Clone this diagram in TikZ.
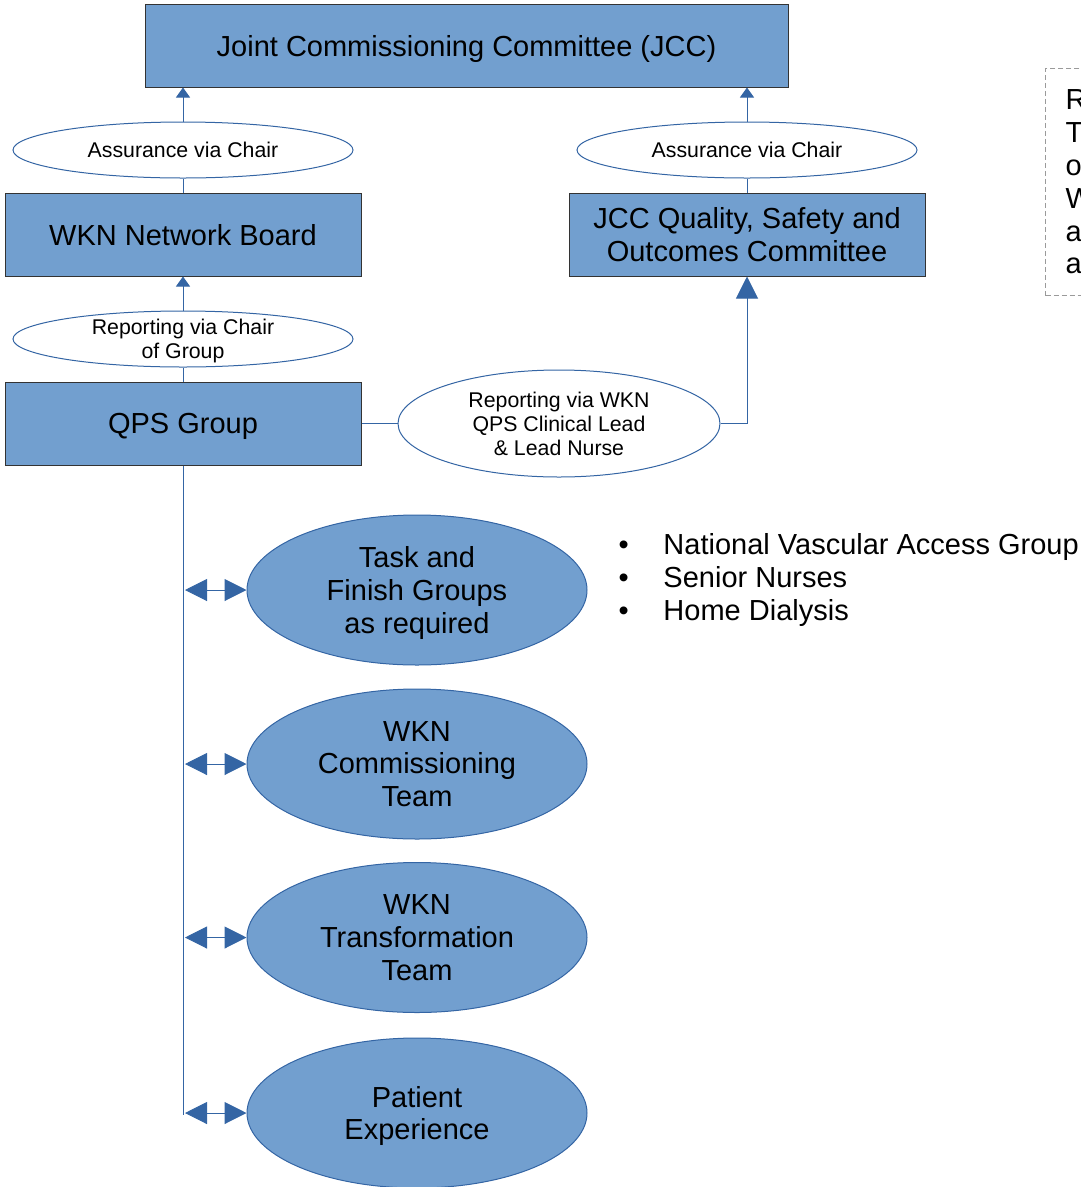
\documentclass[tikz,border=0pt]{standalone}
\usepackage{fontspec}
\setmainfont{Liberation Sans}
\usetikzlibrary{positioning, arrows.meta, shapes.geometric}

\definecolor{boxblue}{HTML}{729FCF}
\definecolor{lineblue}{HTML}{3465A4}
\definecolor{boxedge}{HTML}{333333}
\definecolor{notegray}{HTML}{9A9A9A}

\newcommand{\boxfont}{\fontsize{29}{32.8}\selectfont}
\newcommand{\viafont}{\fontsize{21.3}{24}\selectfont}

\begin{document}
\begin{tikzpicture}[x=1pt, y=-1pt, line width=1pt,
    board/.style={rectangle, draw=boxedge, fill=boxblue, minimum width=356pt, minimum height=83pt, inner sep=0pt, text depth=0pt, align=center, font=\boxfont},
    via/.style={ellipse, draw=lineblue, fill=white, minimum width=340pt, minimum height=56pt, inner sep=0pt, text depth=0pt, align=center, font=\viafont},
    team/.style={ellipse, draw=lineblue, fill=boxblue, minimum width=340pt, minimum height=150pt, inner sep=0pt, text depth=0pt, align=center, font=\boxfont},
    link/.style={draw=lineblue},
    up/.style={link, -{Triangle[length=10pt, width=14pt]}},
    bigup/.style={link, -{Triangle[length=22pt, width=22pt]}},
    both/.style={link, {Triangle[length=22pt, width=22pt]}-{Triangle[length=22pt, width=22pt]}}]
        \useasboundingbox (0,0) rectangle (1081,1187);

        \node (jcc) [board, minimum width=643pt] at (466.5,45.5) {Joint Commissioning Committee (JCC)};
        \node (viaL) [via] at (183,150) {Assurance via Chair};
        \node (viaR) [via] at (747,150) {Assurance via Chair};
        \node (wkn) [board] at (183,234.5) {WKN Network Board};
        \node (qsc) [board] at (747,234.5) {JCC Quality, Safety and\\Outcomes Committee};
        \node (viaG) [via] at (183,339) {Reporting via Chair\\of Group};
        \node (qps) [board] at (183,423.5) {QPS Group};
        \node (viaQ) [via, minimum width=322pt, minimum height=107pt] at (559,423.5) {Reporting via WKN\\QPS Clinical Lead\\\& Lead Nurse};

        \node (tfg) [team] at (417,590) {Task and\\Finish Groups\\as required};
        \node (wct) [team] at (417,764) {WKN\\Commissioning\\Team};
        \node (wtt) [team] at (417,937.5) {WKN\\Transformation\\Team};
        \node (pex) [team] at (417,1113) {Patient\\Experience};

        \node (groups) [anchor=west, align=left, inner sep=0pt, font=\boxfont] at (618,580)
            {\makebox[45pt][l]{•}National Vascular Access Group\\
             \makebox[45pt][l]{•}Senior Nurses\\
             \makebox[45pt][l]{•}Home Dialysis};
        \node (remit) [draw=notegray, dash pattern=on 5pt off 3pt, anchor=north west, minimum height=227pt, inner xsep=20pt, inner ysep=0pt, align=left, font=\boxfont] at (1045,68)
            {R\\T\\o\\W\\a\\a};

        \coordinate (spine) at (183,1115);

        \draw[up] (viaL.north) -- (viaL.north |- jcc.south);
        \draw[link] (wkn.north) -- (viaL.south);
        \draw[up] (viaR.north) -- (viaR.north |- jcc.south);
        \draw[link] (qsc.north) -- (viaR.south);
        \draw[up] (viaG.north) -- (wkn.south);
        \draw[link] (qps.north) -- (viaG.south);
        \draw[link] (qps.east) -- (viaQ.west);
        \draw[bigup] (viaQ.east) -| (qsc.south);
        \draw[link] (qps.south) -- (spine);
        \foreach \t in {tfg, wct, wtt, pex}
            \draw[both] ([xshift=2pt]\t.west -| spine) -- (\t.west);
    \end{tikzpicture}
\end{document}
